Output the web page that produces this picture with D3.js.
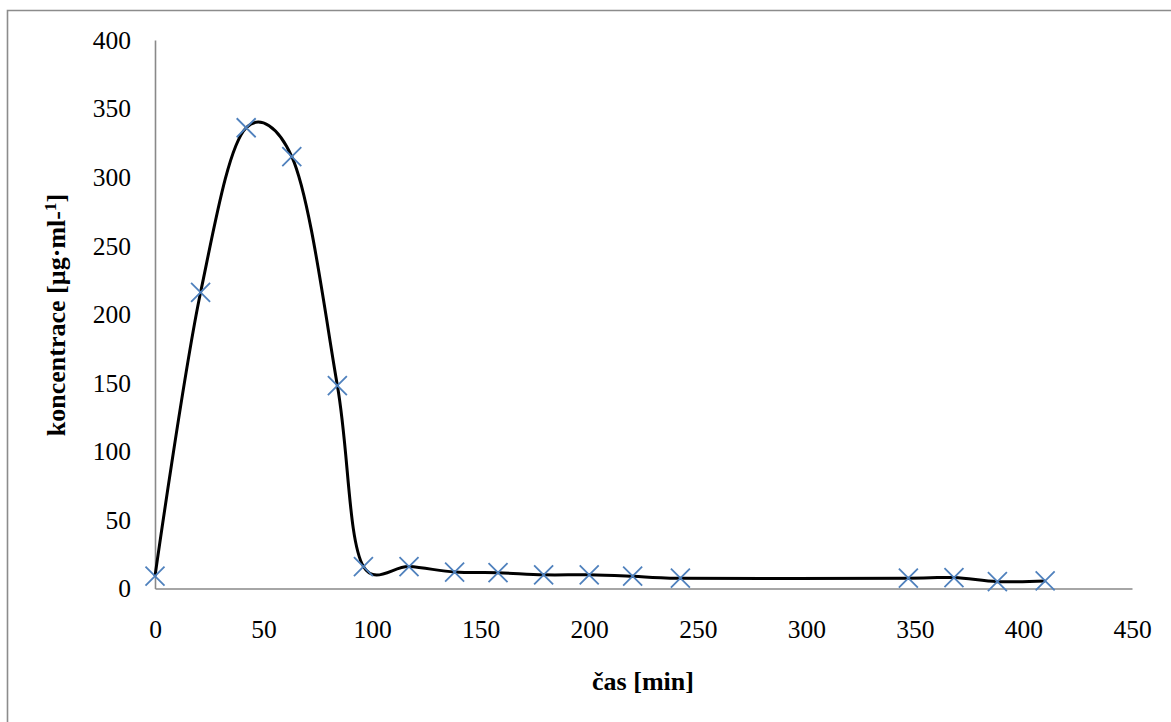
<!DOCTYPE html>
<html>
<head>
<meta charset="utf-8">
<script src="https://cdn.jsdelivr.net/npm/d3@7"></script>
<style>
  html, body { margin: 0; padding: 0; background: #fff; }
  svg { display: block; }
</style>
</head>
<body>
<svg id="chart" width="1171" height="722"></svg>
<script>
// Sampling times [min] and measured concentrations [µg·ml-1]
const times = [0, 21, 42, 63, 84, 96, 117, 138, 158, 179, 200, 220, 242, 347, 368, 388, 410];
const concentrations = [9, 216, 336, 315, 148, 16, 16, 12, 11.5, 10, 10, 9, 7.5, 7.5, 8, 5, 5.5];
const xTicks = [0, 50, 100, 150, 200, 250, 300, 350, 400, 450];
const yTicks = [0, 50, 100, 150, 200, 250, 300, 350, 400];

const svg = d3.select("#chart");
const W = 1171, H = 722;
const plot = { left: 155, right: 1132, top: 40, bottom: 588.5 };
const serif = "'Liberation Serif', 'Times New Roman', serif";
const axisGrey = "#898989";

// Chart-area frame (top and left edges)
svg.append("path")
  .attr("d", `M7.5,${H} L7.5,10.5 L${W},10.5`)
  .attr("fill", "none")
  .attr("stroke", "#8c8c8c")
  .attr("stroke-width", 1.6);

const x = d3.scaleLinear().domain([0, 450]).range([plot.left, plot.right]);
const y = d3.scaleLinear().domain([0, 400]).range([plot.bottom, plot.top]);

// Axes: plain lines, no tick marks
const xAxis = svg.append("g")
  .attr("transform", `translate(0,${plot.bottom})`)
  .call(d3.axisBottom(x).tickValues(xTicks).tickSize(0).tickPadding(0).tickFormat(d3.format("d")));
xAxis.select(".domain").attr("stroke", axisGrey).attr("stroke-width", 1.6);
xAxis.selectAll(".tick text")
  .attr("y", 49.5).attr("dy", null)
  .attr("font-family", serif).attr("font-size", 25.5).attr("fill", "#000");

const yAxis = svg.append("g")
  .attr("transform", `translate(${plot.left},0)`)
  .call(d3.axisLeft(y).tickValues(yTicks).tickSize(0).tickPadding(24).tickFormat(d3.format("d")));
yAxis.select(".domain").attr("stroke", axisGrey).attr("stroke-width", 1.6);
yAxis.selectAll(".tick text")
  .attr("dy", "0.33em")
  .attr("font-family", serif).attr("font-size", 25.5).attr("fill", "#000");

// Smoothed series line
const pts = times.map((t, i) => [t, concentrations[i]]);
const line = d3.line()
  .x(d => x(d[0]))
  .y(d => y(d[1]))
  .curve(d3.curveCatmullRom.alpha(0.2));

svg.append("path")
  .datum(pts)
  .attr("d", line)
  .attr("fill", "none")
  .attr("stroke", "#000")
  .attr("stroke-width", 3)
  .attr("stroke-linejoin", "round");

// Cross markers
const r = 9.5;
svg.append("g")
  .selectAll("path")
  .data(pts)
  .join("path")
  .attr("d", d => {
    const cx = x(d[0]), cy = y(d[1]);
    return `M${cx - r},${cy - r}L${cx + r},${cy + r}M${cx - r},${cy + r}L${cx + r},${cy - r}`;
  })
  .attr("stroke", "#4f81bd")
  .attr("stroke-width", 1.8)
  .attr("fill", "none");

// Axis titles
svg.append("text")
  .attr("x", 643).attr("y", 690)
  .attr("text-anchor", "middle")
  .attr("font-family", serif).attr("font-size", 26).attr("font-weight", "bold")
  .text("čas [min]");

const yt = svg.append("text")
  .attr("transform", "translate(65,315) rotate(-90)")
  .attr("text-anchor", "middle")
  .attr("font-family", serif).attr("font-size", 26).attr("font-weight", "bold");
yt.append("tspan").text("koncentrace [µg·ml-");
yt.append("tspan").attr("font-size", 17).attr("dy", -9).text("1");
yt.append("tspan").attr("dy", 9).text("]");
</script>
</body>
</html>
